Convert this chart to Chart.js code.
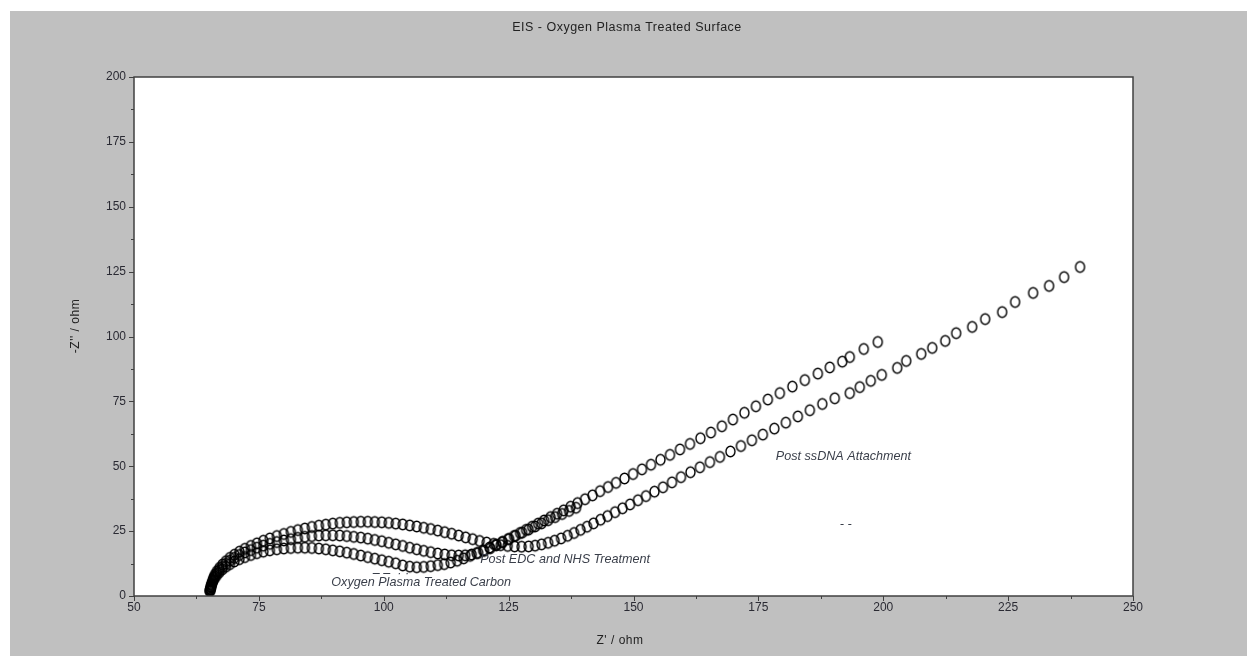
<!DOCTYPE html>
<html>
<head>
<meta charset="utf-8">
<script src="https://cdn.jsdelivr.net/npm/chart.js@4.4.1/dist/chart.umd.min.js"></script>
<style>
  html, body { margin: 0; padding: 0; background: #ffffff; width: 1247px; height: 656px; overflow: hidden; }
  #wrap { position: absolute; left: 10px; top: 11px; width: 1237px; height: 645px; background: #c0c0c0; }
  canvas { display: block; }
</style>
</head>
<body>
<div id="wrap"><canvas id="c" width="1237" height="645"></canvas></div>
<script>
// ---- Data ----
const chartTitle = "EIS - Oxygen Plasma Treated Surface";
const xAxisTitle = "Z' / ohm";
const yAxisTitle = "-Z'' / ohm";
const xTickValues = [50, 75, 100, 125, 150, 175, 200, 225, 250];
const yTickValues = [0, 25, 50, 75, 100, 125, 150, 175, 200];
const seriesNames = ["Oxygen Plasma Treated Carbon", "Post EDC and NHS Treatment", "Post ssDNA Attachment"];

const oxyX = [65.2,65.3,65.4,65.5,65.7,65.9,66.2,66.6,67.1,67.7,68.4,69.2,70.1,71.1,72.2,73.4,74.6,75.9,77.2,78.6,80.0,81.4,82.8,84.2,85.6,87.0,88.4,89.8,91.2,92.6,94.0,95.4,96.8,98.2,99.6,101.0,102.4,103.8,105.2,106.6,108.0,109.4,110.8,112.1,113.4,114.7,116.0,117.3,118.6,119.9,121.2,122.5,123.8,125.1,126.4,127.7,129.0,130.3,131.6,132.9,134.3,135.7,137.1,138.5];
const oxyY = [2.0,2.6,3.3,4.1,5.0,6.0,7.0,8.1,9.2,10.3,11.3,12.3,13.3,14.2,15.0,15.8,16.5,17.1,17.6,18.0,18.3,18.5,18.6,18.6,18.5,18.3,18.0,17.6,17.2,16.7,16.2,15.6,15.0,14.4,13.8,13.2,12.6,11.8,11.3,11.1,11.2,11.5,11.9,12.3,12.9,13.6,14.5,15.5,16.5,17.6,18.7,19.8,20.9,22.0,23.2,24.4,25.6,26.8,28.0,29.2,30.4,31.6,32.8,34.0];

const edcX = [65.2,65.3,65.4,65.5,65.7,65.9,66.2,66.6,67.1,67.7,68.4,69.2,70.1,71.1,72.2,73.4,74.6,75.9,77.2,78.6,80.0,81.4,82.8,84.2,85.6,87.0,88.4,89.8,91.2,92.6,94.0,95.4,96.8,98.2,99.6,101.0,102.4,103.8,105.2,106.6,108.0,109.4,110.8,112.2,113.6,115.0,116.3,117.6,118.9,120.1,121.3,122.5,123.7,124.9,126.1,127.3,128.5,129.7,130.9,132.1,133.4,134.7,136.0,137.4,138.8,140.3,141.8,143.3,144.9,146.5,148.2,149.9,151.7,153.5,155.4,157.3,159.3,161.3,163.4,165.5,167.7,169.9,172.2,174.5,176.9,179.3,181.8,184.3,186.9,189.3,191.8,193.3,196.1,198.9];
const edcY = [2.0,2.7,3.5,4.4,5.4,6.5,7.6,8.8,10.0,11.2,12.4,13.6,14.7,15.8,16.8,17.7,18.6,19.4,20.1,20.8,21.4,21.9,22.4,22.8,23.1,23.3,23.4,23.4,23.3,23.1,22.8,22.5,22.1,21.6,21.1,20.5,19.9,19.3,18.6,18.0,17.4,16.9,16.4,16.0,15.7,15.6,15.7,16.0,16.6,17.4,18.4,19.5,20.7,21.9,23.1,24.3,25.5,26.7,27.9,29.1,30.4,31.7,33.0,34.4,35.8,37.3,38.8,40.4,42.0,43.6,45.3,47.0,48.8,50.6,52.5,54.4,56.5,58.6,60.8,63.0,65.4,68.0,70.6,73.1,75.7,78.2,80.7,83.2,85.7,88.1,90.3,92.1,95.2,97.9];

const dnaX = [65.2,65.3,65.4,65.5,65.7,65.9,66.2,66.6,67.1,67.7,68.4,69.2,70.1,71.1,72.2,73.4,74.6,75.9,77.2,78.6,80.0,81.4,82.8,84.2,85.6,87.0,88.4,89.8,91.2,92.6,94.0,95.4,96.8,98.2,99.6,101.0,102.4,103.8,105.2,106.6,108.0,109.4,110.8,112.2,113.6,115.0,116.4,117.8,119.2,120.6,122.0,123.4,124.8,126.2,127.6,129.0,130.3,131.6,132.9,134.2,135.5,136.8,138.1,139.4,140.7,142.0,143.4,144.8,146.3,147.8,149.3,150.9,152.5,154.2,155.9,157.7,159.5,161.4,163.3,165.3,167.3,169.4,171.5,173.7,175.9,178.2,180.5,182.9,185.3,187.8,190.3,193.3,195.3,197.5,199.7,202.8,204.6,207.6,209.8,212.4,214.6,217.8,220.4,223.8,226.4,230.0,233.2,236.2,239.4];
const dnaY = [2.0,2.8,3.7,4.7,5.8,7.0,8.2,9.5,10.8,12.1,13.4,14.7,15.9,17.1,18.2,19.3,20.3,21.3,22.2,23.1,23.9,24.7,25.4,26.0,26.6,27.1,27.5,27.9,28.2,28.4,28.5,28.6,28.6,28.5,28.4,28.2,27.9,27.6,27.2,26.8,26.3,25.8,25.2,24.6,24.0,23.3,22.6,21.9,21.2,20.6,20.1,19.6,19.3,19.1,19.0,19.1,19.4,19.9,20.5,21.3,22.2,23.2,24.3,25.5,26.7,28.0,29.4,30.8,32.3,33.8,35.3,36.9,38.5,40.2,41.9,43.8,45.8,47.7,49.6,51.6,53.6,55.7,57.8,60.0,62.2,64.5,66.8,69.2,71.6,74.0,76.2,78.2,80.5,82.9,85.2,87.9,90.6,93.3,95.6,98.3,101.3,103.7,106.7,109.4,113.3,116.8,119.5,122.9,126.8];

// text annotations inside the plot, in data coordinates
const noteText = ["Post ssDNA Attachment", "Post EDC and NHS Treatment", "Oxygen Plasma Treated Carbon", "- -", "\u2013 \u2013  \u00b7 \u00b7"];
const noteX = [178.5, 119.3, 89.5, 191.3, 97.8];
const noteY = [53.9, 13.9, 5.4, 27.4, 8.8];

// ---- Marker: hollow, slightly tall ellipse ----
function makeMarker() {
  const m = document.createElement('canvas');
  m.width = 13; m.height = 15;
  const g = m.getContext('2d');
  g.strokeStyle = '#000';
  g.lineWidth = 1.4;
  g.beginPath();
  g.ellipse(6.5, 7.5, 4.5, 5.3, 0, 0, Math.PI * 2);
  g.stroke();
  return m;
}
const marker = makeMarker();

function toPoints(xs, ys) { return xs.map((v, i) => ({ x: v, y: ys[i] })); }

const FONT = '"Liberation Sans", Arial, sans-serif';

const framePlugin = {
  id: 'frame',
  beforeDatasetsDraw(chart) {
    const ctx = chart.ctx;
    const a = chart.chartArea;
    ctx.save();
    ctx.fillStyle = '#ffffff';
    ctx.fillRect(a.left, a.top, a.right - a.left, a.bottom - a.top);
    ctx.restore();
  },
  afterDatasetsDraw(chart) {
    const ctx = chart.ctx;
    const a = chart.chartArea;
    const xs = chart.scales.x, ys = chart.scales.y;
    ctx.save();
    // annotations
    ctx.font = 'italic 12.6px ' + FONT;
    ctx.fillStyle = '#3a3f4a';
    ctx.textBaseline = 'middle';
    ctx.textAlign = 'left';
    noteText.forEach((t, i) => {
      ctx.fillText(t, xs.getPixelForValue(noteX[i]), ys.getPixelForValue(noteY[i]));
    });
    // frame
    ctx.strokeStyle = '#404040';
    ctx.lineWidth = 1.5;
    ctx.strokeRect(a.left, a.top, a.right - a.left, a.bottom - a.top);
    // ticks
    ctx.lineWidth = 1;
    ctx.beginPath();
    for (let v = xs.min; v <= xs.max + 0.01; v += 12.5) {
      const p = Math.round(xs.getPixelForValue(v)) + 0.5;
      const len = (Math.abs(v % 25) < 0.01) ? 5 : 3;
      ctx.moveTo(p, a.bottom);
      ctx.lineTo(p, a.bottom + len);
    }
    for (let v = ys.min; v <= ys.max + 0.01; v += 12.5) {
      const p = Math.round(ys.getPixelForValue(v)) + 0.5;
      const len = (Math.abs(v % 25) < 0.01) ? 5 : 3;
      ctx.moveTo(a.left, p);
      ctx.lineTo(a.left - len, p);
    }
    ctx.stroke();
    // titles
    ctx.fillStyle = '#222';
    ctx.textAlign = 'center';
    ctx.textBaseline = 'middle';
    ctx.font = '12.5px ' + FONT;
    try { ctx.letterSpacing = '0.5px'; } catch (e) {}
    ctx.fillText(chartTitle, 617, 17);
    ctx.font = '12px ' + FONT;
    ctx.fillText(xAxisTitle, 610, 630);
    ctx.translate(66, 315);
    ctx.rotate(-Math.PI / 2);
    ctx.fillText(yAxisTitle, 0, 0);
    ctx.restore();
  }
};

const ds = (name, xs, ys) => ({
  label: name,
  data: toPoints(xs, ys),
  showLine: false,
  pointStyle: marker,
  pointRadius: 5,
  pointHoverRadius: 5,
  borderColor: '#000',
  backgroundColor: 'rgba(0,0,0,0)'
});

new Chart(document.getElementById('c'), {
  type: 'scatter',
  data: {
    datasets: [
      ds(seriesNames[0], oxyX, oxyY),
      ds(seriesNames[1], edcX, edcY),
      ds(seriesNames[2], dnaX, dnaY)
    ]
  },
  options: {
    responsive: false,
    animation: false,
    devicePixelRatio: 1,
    layout: { padding: { top: 66, right: 114, left: 0, bottom: 0 } },
    plugins: { legend: { display: false }, tooltip: { enabled: false }, title: { display: false } },
    scales: {
      x: {
        type: 'linear', min: 50, max: 250,
        afterBuildTicks: s => { s.ticks = xTickValues.map(v => ({ value: v })); },
        afterFit: s => { s.height = 60; },
        grid: { display: false, drawTicks: false },
        border: { display: false },
        ticks: { color: '#2a2a33', font: { family: FONT, size: 12 }, padding: 4, maxRotation: 0, autoSkip: false }
      },
      y: {
        type: 'linear', min: 0, max: 200,
        afterBuildTicks: s => { s.ticks = yTickValues.map(v => ({ value: v })); },
        afterFit: s => { s.width = 124; },
        grid: { display: false, drawTicks: false },
        border: { display: false },
        ticks: { color: '#2a2a33', font: { family: FONT, size: 12 }, padding: 8, autoSkip: false }
      }
    }
  },
  plugins: [framePlugin]
});
</script>
</body>
</html>
